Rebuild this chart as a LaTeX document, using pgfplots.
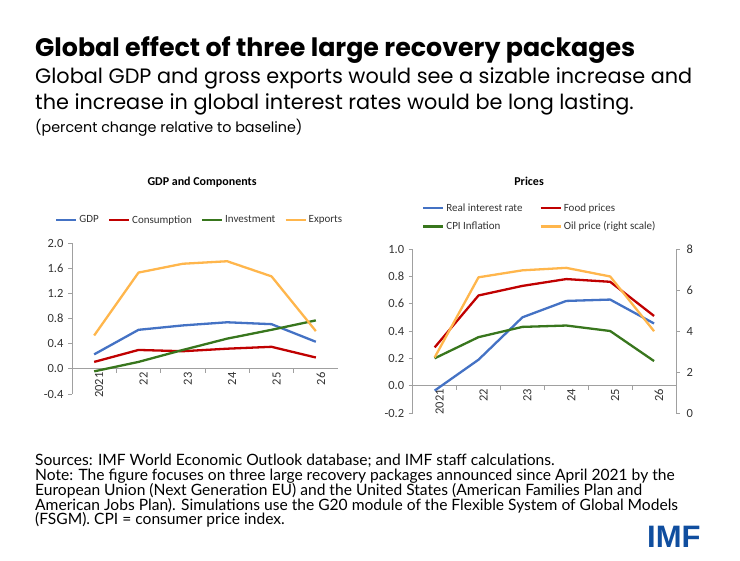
\documentclass[border=0pt]{standalone}
\usepackage{pgfplots}
\pgfplotsset{compat=1.18}
\usepackage{fontspec}
\setmainfont{Carlito}
\newfontfamily\headfont{Poppins}
\newfontfamily\footfont{Lato}
\newfontfamily\logofont{Liberation Sans}
\definecolor{cblue}{RGB}{68,114,196}
\definecolor{cred}{RGB}{192,0,0}
\definecolor{cgreen}{RGB}{56,118,29}
\definecolor{corange}{RGB}{255,182,76}
\definecolor{txt}{RGB}{50,50,50}
\definecolor{axgray}{RGB}{160,160,160}
\definecolor{imfblue}{RGB}{16,78,159}

\pgfplotsset{
  mychart/.style={
    scale only axis,
    xmin=-0.5, xmax=5.5,
    axis x line*=middle,
    axis y line*=left,
    axis line style={draw=axgray, line width=0.8pt},
    xtick={0,...,5},
    xticklabels={2021,22,23,24,25,26},
    minor xtick={0.5,1.5,2.5,3.5,4.5},
    major tick length=0pt,
    minor tick length=4pt,
    every minor tick/.style={draw=axgray, line width=0.8pt},
    tick align=outside,
    xticklabel style={rotate=90, anchor=east, yshift=-5pt, font=\fontsize{12.5}{12.5}\selectfont, text=txt},
    yticklabel style={xshift=-5pt, font=\fontsize{12.5}{12.5}\selectfont, text=txt, /pgf/number format/.cd, fixed, fixed zerofill, precision=1, assume math mode=true},
    clip=false,
    legend cell align=left,
    legend style={draw=none, fill=none, inner sep=0pt, font=\fontsize{11}{11}\selectfont, text=txt},
    legend image code/.code={\draw[#1] (0pt,0pt) -- (20pt,0pt);},
    title style={font=\fontsize{12}{12}\selectfont\bfseries, anchor=center},
    every axis plot/.append style={line width=2.3pt, line join=round, mark=none},
  }
}

\begin{document}
\begin{tikzpicture}[x=1pt,y=1pt]
\useasboundingbox (0pt,0pt) rectangle (740pt,-561pt);

% header
\node[anchor=base west, inner sep=0pt] at (35pt,-56.7pt) {\fontsize{25.3}{28}\headfont\bfseries Global effect of three large recovery packages};
\node[anchor=base west, inner sep=0pt] at (35pt,-84pt) {\fontsize{20.8}{24}\headfont Global GDP and gross exports would see a sizable increase and};
\node[anchor=base west, inner sep=0pt] at (35pt,-109.3pt) {\fontsize{20.8}{24}\headfont the increase in global interest rates would be long lasting.};
\node[anchor=base west, inner sep=0pt] at (35pt,-133pt) {\fontsize{14.3}{16}\headfont (percent change relative to baseline)};

% left chart
\begin{axis}[mychart,
  at={(72pt,-394pt)}, anchor=south west,
  width=266pt, height=151pt,
  ymin=-0.4, ymax=2.0,
  ytick={-0.4,0,0.4,0.8,1.2,1.6,2.0},
  minor ytick={-0.4,0,0.4,0.8,1.2,1.6,2.0},
  title={GDP and Components},
  title style={at={(axis description cs:0.489,1.364)}},
  legend columns=4,
  legend style={at={(axis description cs:-0.064,1.152)}, anchor=west,
    /tikz/every even column/.append style={column sep=7pt}},
]
\addplot[cblue] coordinates {(0,0.23) (1,0.62) (2,0.69) (3,0.74) (4,0.71) (5,0.43)};
\addlegendentry{GDP}
\addplot[cred] coordinates {(0,0.11) (1,0.30) (2,0.28) (3,0.32) (4,0.35) (5,0.18)};
\addlegendentry{Consumption}
\addplot[cgreen] coordinates {(0,-0.04) (1,0.11) (2,0.30) (3,0.48) (4,0.62) (5,0.77)};
\addlegendentry{Investment}
\addplot[corange] coordinates {(0,0.53) (1,1.53) (2,1.67) (3,1.71) (4,1.47) (5,0.60)};
\addlegendentry{Exports}
\end{axis}

% right chart, left scale
\begin{axis}[mychart,
  at={(412.7pt,-413pt)}, anchor=south west,
  width=263.3pt, height=164pt,
  ymin=-0.2, ymax=1.0,
  ytick={-0.2,0,0.2,0.4,0.6,0.8,1.0},
  minor ytick={-0.2,0,0.2,0.4,0.6,0.8,1.0},
  title={Prices},
  title style={at={(axis description cs:0.442,1.378)}},
  legend columns=2,
  legend style={at={(axis description cs:0.035,1.192)}, anchor=west,
    /tikz/every even column/.append style={column sep=15pt},
    row sep=5pt},
]
\addplot[cblue] coordinates {(0,-0.036) (1,0.19) (2,0.50) (3,0.62) (4,0.63) (5,0.455)};
\addlegendentry{Real interest rate}
\addplot[cred] coordinates {(0,0.28) (1,0.66) (2,0.73) (3,0.78) (4,0.76) (5,0.51)};
\addlegendentry{Food prices}
\addplot[cgreen] coordinates {(0,0.20) (1,0.355) (2,0.43) (3,0.44) (4,0.40) (5,0.18)};
\addlegendentry{CPI Inflation}
\addlegendimage{corange, line width=2.3pt}
\addlegendentry{Oil price (right scale)}
\end{axis}

% right chart, right scale
\begin{axis}[
  scale only axis,
  at={(412.7pt,-413pt)}, anchor=south west,
  width=263.3pt, height=164pt,
  xmin=-0.5, xmax=5.5,
  ymin=0, ymax=8,
  axis x line=none,
  axis y line*=right,
  axis line style={draw=axgray, line width=0.8pt},
  ytick={0,2,4,6,8},
  minor ytick={0,2,4,6,8},
  major tick length=0pt,
  minor tick length=4pt,
  every minor tick/.style={draw=axgray, line width=0.8pt},
  tick align=outside,
  yticklabel style={xshift=7pt, font=\fontsize{12.5}{12.5}\selectfont, text=txt, /pgf/number format/assume math mode=true},
  clip=false,
  every axis plot/.append style={line width=2.3pt, line join=round, mark=none},
]
\addplot[corange] coordinates {(0,2.71) (1,6.62) (2,6.96) (3,7.08) (4,6.66) (5,3.99)};
\end{axis}

% footer
\def\fl#1#2{\node[anchor=base west, inner sep=0pt] at (35pt,#1pt) {\fontsize{15.6}{16}\footfont #2};}
\fl{-466}{Sources: IMF World Economic Outlook database; and IMF staff calculations.}
\fl{-480.75}{Note: The figure focuses on three large recovery packages announced since April 2021 by the}
\fl{-495.5}{European Union (Next Generation EU) and the United States (American Families Plan and}
\fl{-510.25}{American Jobs Plan). Simulations use the G20 module of the Flexible System of Global Models}
\fl{-525}{(FSGM). CPI = consumer price index.}

\node[anchor=base west, inner sep=0pt, text=imfblue] at (647pt,-548pt) {\fontsize{31}{31}\logofont\bfseries IMF};
\end{tikzpicture}
\end{document}
